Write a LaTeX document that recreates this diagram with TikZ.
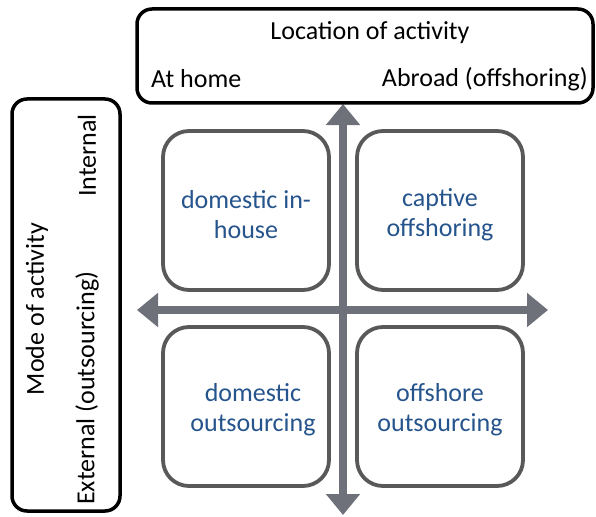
\documentclass[tikz,border=0pt]{standalone}
\usepackage{fontspec}
\setmainfont{Carlito}
\usetikzlibrary{arrows.meta}
\definecolor{axisgray}{RGB}{110,113,121}
\definecolor{boxgray}{RGB}{89,89,89}
\definecolor{cellblue}{RGB}{38,84,140}
\begin{document}
\begin{tikzpicture}[x=1pt,y=-1pt,
  frame/.style={draw=black,line width=3.5pt,rounded corners=15pt,fill=white},
  cell/.style={draw=boxgray,line width=3.8pt,rounded corners=26pt,fill=white},
  celltext/.style={text=cellblue,align=center,font=\fontsize{26pt}{30pt}\selectfont},
  label/.style={font=\fontsize{26pt}{30pt}\selectfont,inner sep=0pt},
  axis/.style={draw=axisgray,line width=8pt,-{Triangle[width=33pt,length=21pt]}}
]
\useasboundingbox (0,0) rectangle (596,516);

% axes
\coordinate (vtop) at (343,104);
\coordinate (vbot) at (343,515);
\coordinate (hleft) at (137,310);
\coordinate (hright) at (548,310);
\coordinate (origin) at (343,310);
\draw[axis] (origin) -- (vtop);
\draw[axis] (origin) -- (vbot);
\draw[axis] (origin) -- (hleft);
\draw[axis] (origin) -- (hright);

% header frames
\draw[frame] (137,9) rectangle (593,103);
\node[label] (loc) at (370,33) {Location of activity};
\node[label,anchor=west] (home) at (151,79) {At home};
\node[label,anchor=east] (abroad) at (588,79) {Abroad (offshoring)};

\draw[frame] (12,99) rectangle (120,511);
\node[label,rotate=90] (mode) at (37,309) {Mode of activity};
\node[label,rotate=90,anchor=east] (int) at (87,114) {Internal};
\node[label,rotate=90,anchor=west] (ext) at (87,505) {External (outsourcing)};

% quadrant cells
\draw[cell] (163,131) rectangle (329,290);
\draw[cell] (357,131) rectangle (523,290);
\draw[cell] (163,327) rectangle (329,486);
\draw[cell] (357,327) rectangle (523,486);
\node[celltext] (dih) at (246,215) {domestic in-\\house};
\node[celltext] (cap) at (440,215) {captive\\offshoring};
\node[celltext] (dout) at (253,410) {domestic\\outsourcing};
\node[celltext] (oout) at (440,410) {offshore\\outsourcing};
\end{tikzpicture}
\end{document}
